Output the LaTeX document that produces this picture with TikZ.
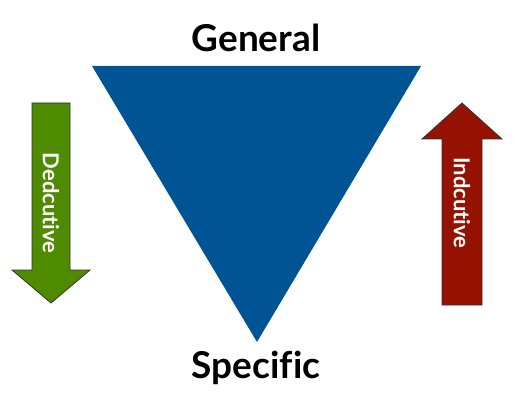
\documentclass[tikz,border=0pt]{standalone}
\usepackage{fontspec}
\setmainfont{Lato}[Ligatures=NoCommon]
\usetikzlibrary{positioning}
\definecolor{triblue}{RGB}{0,84,147}
\definecolor{dedgreen}{RGB}{78,139,0}
\definecolor{indred}{RGB}{150,18,0}

\begin{document}
\begin{tikzpicture}[x=1pt,y=-1pt,
    title/.style={font=\bfseries\fontsize{37}{40}\selectfont, text=black},
    arrowtext/.style={font=\bfseries\fontsize{22}{24}\selectfont, text=white, rotate=-90},
    arrowbody/.style={draw=black!80, line width=0.8pt}]
    \useasboundingbox (0,0) rectangle (513,403);

    \fill[triblue] (92,66)--(421,66)--(257,342)--cycle;

    \filldraw[arrowbody, fill=dedgreen] (32,103)--(70,103)--(70,270)--(90,270)--(51,303)--(12,270)--(32,270)--cycle;
    \filldraw[arrowbody, fill=indred] (442,305)--(442,139)--(422,139)--(462,103)--(502,139)--(482,139)--(482,305)--cycle;

    \node[title] at (256,38)(general) {General};
    \node[title] at (256,368)(specific) {Specific};
    \node[arrowtext] at (51,203)(ded) {Dedcutive};
    \node[arrowtext] at (462,203)(ind) {Indcutive};
\end{tikzpicture}
\end{document}
